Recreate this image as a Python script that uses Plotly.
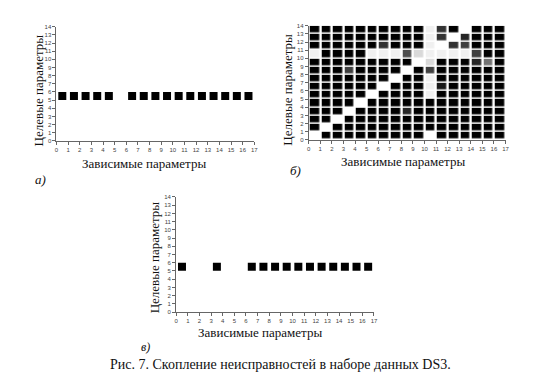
import plotly.graph_objects as go

# ---------------- data ----------------
x_ticks = list(range(0, 18))
y_ticks = list(range(0, 15))

# panel a) – fault cluster on target parameter 5
a_dep = [0.5, 1.5, 2.5, 3.5, 4.5, 6.5, 7.5, 8.5, 9.5, 10.5, 11.5, 12.5, 13.5, 14.5, 15.5, 16.5]
a_target = [5.5] * len(a_dep)

# panel в)
c_dep = [0.5, 3.5, 6.5, 7.5, 8.5, 9.5, 10.5, 11.5, 12.5, 13.5, 14.5, 15.5, 16.5]
c_target = [5.5] * len(c_dep)

# panel б) – intensity per dependent parameter (column), target rows 0..13 (bottom -> top)
f = 0.06
b_columns = [
    [0, 1, 1, 1, 1, 1, 1, 1, 1, 1, f, 1, 1, 1],          # 0
    [1, 0, 1, 1, 1, 1, 1, 1, 1, 1, 1, 1, 1, 1],          # 1
    [1, 1, 0, 1, 1, 1, 1, 1, 1, 1, 1, 1, 1, 1],          # 2
    [1, 1, 1, 0, 1, 1, 1, 1, 0.75, 1, 1, 1, 1, 1],       # 3
    [1, 1, 1, 1, 0, 1, 1, 1, 1, 1, 1, 1, 1, 1],          # 4
    [1, 1, 1, 1, 1, 0, 1, 1, 1, 1, f, 1, 1, 1],          # 5
    [1, 1, 1, 1, 1, 1, 0, 1, 1, 1, f, 0.8, 1, 1],        # 6
    [1, 1, 1, 1, 1, 1, 1, 0, 1, 1, f, 1, 1, 1],          # 7
    [1, 1, 1, 0.85, 1, 1, 1, 1, 0, 1, 0.7, 1, 1, 1],     # 8
    [1, 1, 1, 1, 1, 1, 1, 1, 1, 0, 0.15, 1, 1, 1],       # 9
    [0, 1, 1, 1, 1, f, f, f, 0.75, 0.15, f, f, f, f],    # 10
    [1, 1, 1, 1, 1, 1, 0.9, 1, 1, 1, f, 0, 0.8, 0.8],    # 11
    [1, 1, 1, 1, 1, 1, 1, 1, 1, 1, f, 0.8, 0, 1],        # 12
    [1, 1, 1, 1, 1, 1, 1, 1, 1, 1, f, 0.75, 0.85, 0],    # 13
    [1, 1, 1, 1, 1, 1, 1, 1, 1, 0.85, 0.75, 1, 1, 1],    # 14
    [1, 1, 1, 1, 1, 1, 1, 1, 1, 0.55, 1, 1, 1, 1],       # 15
    [1, 1, 1, 1, 1, 1, 1, 1, 1, 1, 1, 1, 1, 1],          # 16
]
b_z = [list(row) for row in zip(*b_columns)]  # rows = target params

x_title = "Зависимые параметры"
y_title = "Целевые параметры"
panel_labels = ["а)", "б)", "в)"]
caption = "Рис. 7. Скопление неисправностей в наборе данных DS3."

# ---------------- figure ----------------
W, H = 548, 372
fig = go.Figure()

fig.add_trace(go.Scatter(x=a_dep, y=a_target, mode="markers", xaxis="x", yaxis="y",
                         marker=dict(symbol="square", size=8, color="black"), showlegend=False))
fig.add_trace(go.Heatmap(z=b_z, x0=0.5, dx=1, y0=0.5, dy=1, xaxis="x2", yaxis="y2",
                         colorscale=[[0, "white"], [1, "black"]], zmin=0, zmax=1,
                         showscale=False, xgap=2.5, ygap=1.5, hoverinfo="skip"))
fig.add_trace(go.Scatter(x=c_dep, y=c_target, mode="markers", xaxis="x3", yaxis="y3",
                         marker=dict(symbol="square", size=8, color="black"), showlegend=False))

def px_x(a, b):
    return [a / W, b / W]

def px_y(top, bottom):
    return [1 - bottom / H, 1 - top / H]

axis_common = dict(range=[0, 17], tickmode="array", tickvals=x_ticks, ticks="outside", ticklen=3,
                   tickcolor="#666", showline=True, linecolor="#666", linewidth=1, showgrid=False,
                   zeroline=False, tickfont=dict(family="Liberation Sans", size=6, color="#444"),
                   fixedrange=True)
yaxis_common = dict(axis_common, range=[0, 14], tickvals=y_ticks)

fig.update_layout(
    width=W, height=H, margin=dict(l=0, r=0, t=0, b=0),
    paper_bgcolor="white", plot_bgcolor="white",
    xaxis=dict(axis_common, domain=px_x(47, 247), anchor="y"),
    yaxis=dict(yaxis_common, domain=px_y(16, 132), anchor="x"),
    xaxis2=dict(axis_common, domain=px_x(302, 501), anchor="y2"),
    yaxis2=dict(yaxis_common, domain=px_y(15, 131), anchor="x2"),
    xaxis3=dict(axis_common, domain=px_x(168, 368), anchor="y3"),
    yaxis3=dict(yaxis_common, domain=px_y(189, 306), anchor="x3"),
)

serif = "Liberation Serif, Times New Roman, DejaVu Serif, serif"
ann = []
def txt(x, y, s, size=13, angle=0, italic=False):
    ann.append(dict(x=x / W, y=1 - y / H, xref="paper", yref="paper", text=(f"<i>{s}</i>" if italic else s),
                    showarrow=False, textangle=angle, xanchor="center", yanchor="middle",
                    borderpad=0,
                    font=dict(family=serif, size=size, color="#111")))

# panel a
txt(135, 155, x_title)
txt(29, 81, y_title, angle=-90)
txt(31, 171, panel_labels[0], italic=True)
# panel б
txt(397, 153, x_title)
txt(281, 80, y_title, angle=-90)
txt(289, 162, panel_labels[1], italic=True)
# panel в
txt(253, 327, x_title)
txt(147, 250, y_title, angle=-90)
txt(137, 341, panel_labels[2], size=12, italic=True)
# caption
txt(273, 359, caption, size=14)

fig.update_layout(annotations=ann)
fig.write_html("out.html")
